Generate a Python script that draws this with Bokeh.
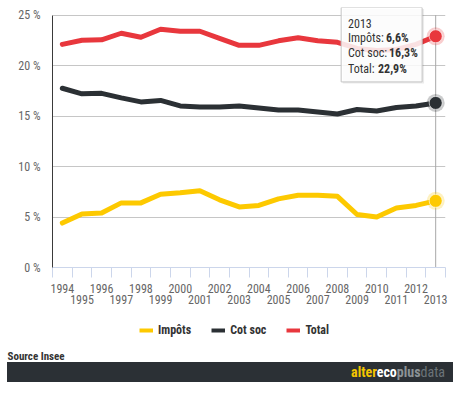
from bokeh.plotting import figure
from bokeh.models import (Range1d, LinearAxis, FixedTicker, PrintfTickFormatter, Grid,
                          Legend, LegendItem, Title, Div)
from bokeh.layouts import column
from bokeh.core.properties import value
from bokeh.embed import file_html
from bokeh.resources import INLINE

# ---------------- data ----------------
years = list(range(1994, 2014))
impots = [4.4, 5.3, 5.4, 6.4, 6.4, 7.25, 7.4, 7.6, 6.7, 6.0,
          6.15, 6.8, 7.15, 7.15, 7.05, 5.25, 5.0, 5.9, 6.15, 6.6]
cotsoc = [17.75, 17.2, 17.25, 16.8, 16.4, 16.55, 16.0, 15.9, 15.9, 16.0,
          15.8, 15.6, 15.6, 15.4, 15.2, 15.65, 15.5, 15.85, 16.0, 16.3]
total = [22.1, 22.5, 22.55, 23.2, 22.8, 23.6, 23.4, 23.4, 22.7, 22.0,
         22.0, 22.45, 22.75, 22.45, 22.3, 21.7, 21.5, 21.6, 22.1, 22.9]
series_names = ["Impôts", "Cot soc", "Total"]
series_colors = ["#fdc900", "#2b3034", "#e8373d"]
y_ticks = [0, 5, 10, 15, 20, 25]
source_text = "Source Insee"
logo_parts = ["alter", "eco", "plus", "data"]
logo_colors = ["#f3c600", "#ffffff", "#8b9296", "#6c7479"]
logo_weights = ["bold", "bold", "bold", "normal"]

BG = "#e6e6e6"
BAR = "#2b3035"
FONT = "Roboto Condensed"

x_lo, x_hi = years[0] - 0.5, years[-1] + 0.5
p = figure(width=460, height=306, x_range=Range1d(x_lo, x_hi), y_range=Range1d(0, 25.75),
           x_axis_type=None, y_axis_type=None, output_backend="svg", toolbar_location=None,
           min_border_left=52, min_border_right=15, min_border_top=7, min_border_bottom=38,
           background_fill_color=None, border_fill_color=None, outline_line_color=None)

# y axis
yaxis = LinearAxis(ticker=FixedTicker(ticks=y_ticks), formatter=PrintfTickFormatter(format="%d %%"),
                   bounds=(y_ticks[0], y_ticks[-1]), axis_line_color="#3a3a3a", axis_line_width=1,
                   major_tick_line_color=None, minor_tick_line_color=None,
                   major_tick_out=0, major_tick_in=0, major_label_standoff=12,
                   major_label_text_font=FONT, major_label_text_font_size="12px",
                   major_label_text_color="#666666")
p.add_layout(yaxis, "left")
p.add_layout(Grid(dimension=1, ticker=FixedTicker(ticks=y_ticks[1:]),
                  grid_line_color="#c6c6c6", grid_line_width=1))

# x axes (staggered labels, ticks between categories)
boundaries = [y - 0.5 for y in years] + [years[-1] + 0.5]
xa = LinearAxis(ticker=FixedTicker(ticks=years[0::2], minor_ticks=boundaries),
                formatter=PrintfTickFormatter(format="%d"),
                axis_line_color="#ccd6eb", axis_line_width=1,
                major_tick_line_color=None, major_tick_out=0, major_tick_in=0,
                minor_tick_line_color="#ccd6eb", minor_tick_out=10, minor_tick_in=0,
                major_label_standoff=6, major_label_text_font=FONT,
                major_label_text_font_size="12px", major_label_text_color="#666666")
xb = LinearAxis(ticker=FixedTicker(ticks=years[1::2]),
                formatter=PrintfTickFormatter(format="%d"),
                axis_line_color=None, major_tick_line_color=None, minor_tick_line_color=None,
                major_tick_out=0, major_tick_in=0, major_label_standoff=-1,
                major_label_text_font=FONT, major_label_text_font_size="12px",
                major_label_text_color="#666666")
p.add_layout(xa, "below")
p.add_layout(xb, "below")

# crosshair at last year
p.segment(x0=[years[-1]], y0=[y_ticks[0]], x1=[years[-1]], y1=[y_ticks[-1]],
          line_color="#a9a9a9", line_width=1)

all_series = [impots, cotsoc, total]
for vals, color in zip(all_series, series_colors):
    p.line(years, vals, line_color=color, line_width=5, line_join="round", line_cap="round")

last_vals = [s[-1] for s in all_series]
p.scatter(x=[years[-1]] * 3, y=last_vals, size=18, fill_color=series_colors, fill_alpha=0.25,
          line_color=None)
p.scatter(x=[years[-1]] * 3, y=last_vals, size=13, fill_color=series_colors,
          line_color="white", line_alpha=0.6, line_width=1)

# tooltip
def fmt(v):
    return f"{v:.1f}".replace(".", ",") + "%"

p.quad(left=[2008.27], right=[2012.41], top=[25.6], bottom=[18.22], fill_color="black",
       fill_alpha=0.08, line_color=None)
p.quad(left=[2008.19], right=[2012.31], top=[25.75], bottom=[18.38], fill_color="white",
       fill_alpha=0.85, line_color="#c4c4c4", line_width=1)
p.text(x=[2008.54] * 4, y=[24.17, 22.69, 21.21, 19.63],
       text=[str(years[-1])] + [n + ":" for n in series_names],
       text_font=value(FONT), text_font_size="12px", text_color="#333333",
       text_baseline="middle", text_align="left")
p.text(x=[2008.54] * 3, y=[22.69, 21.21, 19.63], text=[fmt(v) for v in last_vals],
       x_offset=[38, 41, 30], text_font=value(FONT), text_font_size="12px",
       text_font_style="bold", text_color="#333333", text_baseline="middle", text_align="left")

# legend strip + source line (series drawn outside this strip's view, only for the legend)
lg = figure(width=460, height=56, x_range=Range1d(0, 1), y_range=Range1d(0, 1),
            x_axis_type=None, y_axis_type=None, output_backend="svg", toolbar_location=None,
            min_border_left=52, min_border_right=15, min_border_top=0, min_border_bottom=13,
            background_fill_color=None, border_fill_color=None, outline_line_color=None)
leg_renderers = [lg.line(years, vals, line_color=c, line_width=4)
                 for vals, c in zip(all_series, series_colors)]
legend = Legend(items=[LegendItem(label=n, renderers=[r]) for n, r in zip(series_names, leg_renderers)],
                orientation="horizontal", location=(87, 10), padding=0, spacing=20,
                glyph_width=14, glyph_height=14, label_height=14, label_standoff=5,
                label_text_font=FONT, label_text_font_size="12px", label_text_font_style="bold",
                label_text_color="#333333", background_fill_alpha=0, border_line_color=None)
lg.add_layout(legend, "center")
lg.add_layout(Title(text=source_text, align="left", offset=-45, standoff=0, text_font=FONT,
                    text_font_size="11px", text_font_style="bold", text_color="#333333"), "below")

# footer bar with logo (inset 7px on both sides)
spans = "".join(
    f'<span style="color:{c};font-weight:{w}">{t}</span>'
    for t, c, w in zip(logo_parts, logo_colors, logo_weights))
footer = Div(text=(f'<div style="background-color:{BAR};width:446px;height:20px;'
                   f'box-sizing:border-box;padding-right:8px;text-align:right;'
                   f"font-family:'{FONT}';font-size:14px;line-height:20px;\">{spans}</div>"),
             width=446, height=20, margin=(0, 7, 0, 7))

layout = column(p, lg, footer, spacing=0)
html = file_html(layout, INLINE)
html = html.replace("<body>", '<body style="background-color:#e6e6e6;">', 1)
open("out.html", "w").write(html)
